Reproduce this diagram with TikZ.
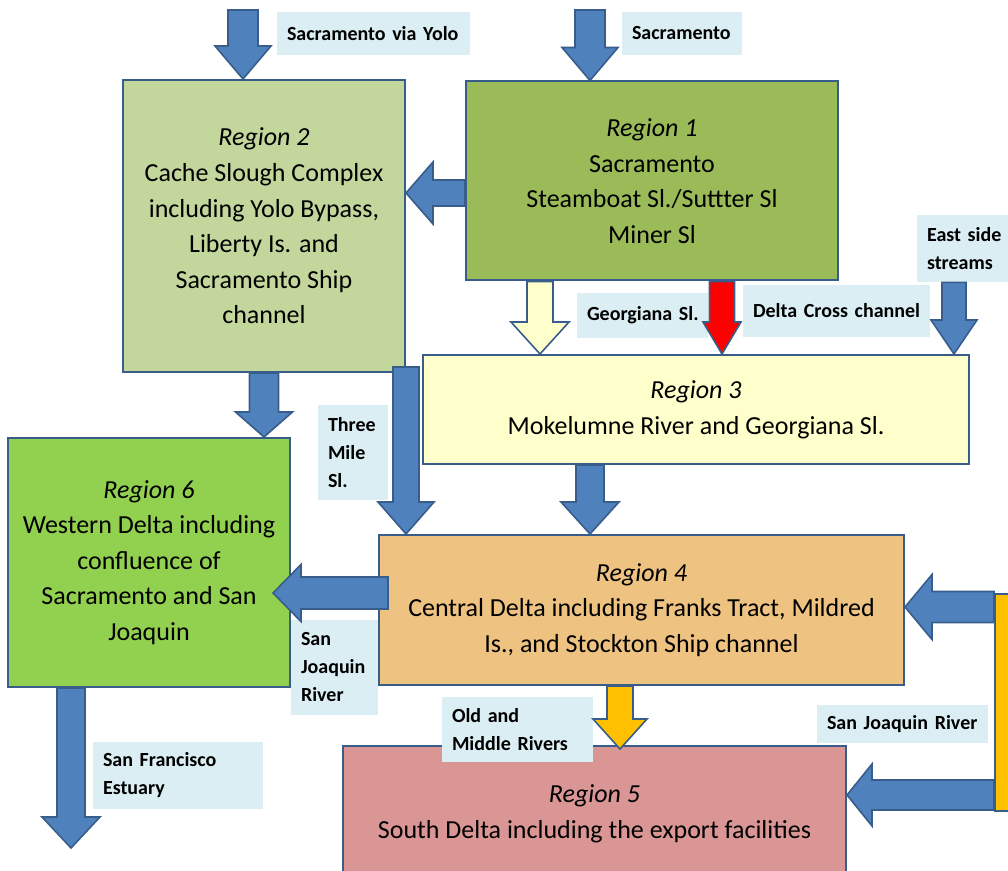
\documentclass[tikz,border=0pt]{standalone}
\usepackage{fontspec}
\setmainfont{Carlito}
\usetikzlibrary{calc}
\definecolor{bord}{HTML}{385D8A}
\definecolor{ablue}{HTML}{4F81BD}
\definecolor{cone}{HTML}{9BBB59}
\definecolor{ctwo}{HTML}{C3D69B}
\definecolor{cthree}{HTML}{FFFFCC}
\definecolor{cfour}{HTML}{EEC281}
\definecolor{cfive}{HTML}{D99694}
\definecolor{csix}{HTML}{92D050}
\definecolor{orng}{HTML}{FFC000}
\definecolor{lblue}{HTML}{DBEEF4}
\newcommand\blockarr[6]{%
  \coordinate (ba-c) at ($(#2)!#5!(#1)$);
  \draw[barr,#6] ($(#1)!#3!90:(#2)$) -- ($(ba-c)!#3!90:(#2)$) -- ($(ba-c)!#4!90:(#2)$) -- (#2) -- ($(ba-c)!#4!-90:(#2)$) -- ($(ba-c)!#3!-90:(#2)$) -- ($(#1)!#3!-90:(#2)$) -- cycle;}
\begin{document}
\begin{tikzpicture}[x=0.5pt,y=-0.5pt,
  region/.style={draw=bord, line width=1pt, rectangle, inner sep=0pt, align=center, font=\fontsize{13}{17.8}\selectfont},
  lbl/.style={fill=lblue, rectangle, inner xsep=5pt, inner ysep=0pt, align=left, font=\fontsize{10}{14}\selectfont\bfseries},
  barr/.style={fill=ablue, draw=bord, line width=0.8pt, line join=miter}]
\useasboundingbox (0,0) rectangle (1008,871);
\clip (0,0) rectangle (1008,871);
% regions
\node[region, fill=cone, minimum width=186pt, minimum height=99.5pt] (r1) at (652,181)
  {\textit{Region 1}\\Sacramento\\Steamboat Sl./Suttter Sl\\Miner Sl};
\node[region, fill=ctwo, minimum width=141pt, minimum height=146pt] (r2) at (264,226)
  {\textit{Region 2}\\Cache Slough Complex\\including Yolo Bypass,\\Liberty Is. and\\Sacramento Ship\\channel};
\node[region, fill=cthree, minimum width=273pt, minimum height=54.5pt] (r3) at (696,409.5)
  {\textit{Region 3}\\Mokelumne River and Georgiana Sl.};
\node[region, fill=cfour, minimum width=262.5pt, minimum height=75pt] (r4) at (641.5,610)
  {\textit{Region 4}\\Central Delta including Franks Tract, Mildred\\Is., and Stockton Ship channel};
\node[region, fill=cfive, minimum width=251.5pt, minimum height=68pt] (r5) at (594.5,814)
  {\textit{Region 5}\\South Delta including the export facilities};
\node[region, fill=csix, minimum width=141pt, minimum height=124.5pt] (r6) at (149,562.5)
  {\textit{Region 6}\\Western Delta including\\confluence of\\Sacramento and San\\Joaquin};
\node[draw=bord, fill=orng, line width=1pt, minimum width=10pt, minimum height=108.5pt, inner sep=0pt] (bar) at (1005,702.5) {};
% labels
\node[lbl, text width=86.5pt, minimum height=21.5pt] (l1) at (373.5,33.5) {\mbox{Sacramento via Yolo}};
\node[lbl, text width=50pt, minimum height=21.5pt] (l2) at (682,33.5) {\mbox{Sacramento}};
\node[lbl, text width=55.5pt, minimum height=22.5pt] (l3) at (642.5,315.5) {\mbox{Georgiana Sl.}};
\node[lbl, text width=83.5pt, minimum height=26pt] (l4) at (836.5,311) {\mbox{Delta Cross channel}};
\node[lbl, text width=35.5pt, minimum height=33.5pt] (l5) at (962.5,248.5) {\mbox{East side}\\\mbox{streams}};
\node[lbl, text width=25pt, minimum height=47.5pt] (l6) at (353,452.5) {\mbox{Three}\\\mbox{Mile}\\\mbox{Sl.}};
\node[lbl, text width=33.5pt, minimum height=47.5pt] (l7) at (334.5,667.5) {\mbox{San}\\\mbox{Joaquin}\\\mbox{River}};
\node[lbl, text width=65.5pt, minimum height=32.5pt] (l8) at (517.5,729.5) {\mbox{Old and}\\\mbox{Middle Rivers}};
\node[lbl, text width=75.5pt, minimum height=19pt] (l9) at (902.5,724) {\mbox{San Joaquin River}};
\node[lbl, text width=75pt, minimum height=33.5pt] (l10) at (178,775.5) {\mbox{San Francisco}\\\mbox{Estuary}};
% arrow end points
\coordinate (s1) at (243,10); \coordinate (e1) at (s1 |- r2.north);
\coordinate (s2) at (590,10); \coordinate (e2) at (s2 |- r1.north);
\coordinate (s3) at (r1.west |- 0,193); \coordinate (e3) at (r2.east |- 0,193);
\coordinate (s4) at (r2.south); \coordinate (e4) at (r2.south |- r6.north);
\coordinate (s5) at ($(r2.south east)+(0,-6)$); \coordinate (e5) at (r2.south east |- r4.north);
\coordinate (s6) at (r1.south -| 540,0); \coordinate (e6) at (r3.north -| 540,0);
\coordinate (s7) at (r1.south -| 722,0); \coordinate (e7) at (r3.north -| 722,0);
\coordinate (s8) at (l5.south -| 954,0); \coordinate (e8) at (r3.north -| 954,0);
\coordinate (s9) at (r3.south -| 590,0); \coordinate (e9) at (r4.north -| 590,0);
\coordinate (s10) at ($(r4.west |- 0,593)+(10,0)$); \coordinate (e10) at ($(r6.east |- 0,593)+(-18,0)$);
\coordinate (s11) at (r4.south -| 620,0); \coordinate (e11) at ($(r5.north -| 620,0)+(0,4)$);
\coordinate (s12) at (bar.west |- 0,607); \coordinate (e12) at (r4.east |- 0,607);
\coordinate (s13) at (bar.west |- 0,795); \coordinate (e13) at (r5.east |- 0,795);
\coordinate (s14) at (r6.south -| 71,0); \coordinate (sf) at (71,848);
% block arrows
\blockarr{s1}{e1}{7.5pt}{14pt}{16.5pt}{}
\blockarr{s2}{e2}{7.5pt}{14pt}{16.5pt}{}
\blockarr{s3}{e3}{6.5pt}{15.5pt}{13.5pt}{}
\blockarr{s4}{e4}{7.25pt}{14.25pt}{12.5pt}{}
\blockarr{s5}{e5}{6.5pt}{14pt}{16pt}{}
\blockarr{s6}{e6}{6.5pt}{14.5pt}{16pt}{fill=cthree}
\blockarr{s7}{e7}{6.25pt}{9.5pt}{16pt}{fill=red}
\blockarr{s8}{e8}{6pt}{11.5pt}{17pt}{}
\blockarr{s9}{e9}{7pt}{14.5pt}{16pt}{}
\blockarr{s10}{e10}{8pt}{14.25pt}{14pt}{}
\blockarr{s11}{e11}{6.5pt}{13.5pt}{15pt}{fill=orng}
\blockarr{s12}{e12}{7.75pt}{16.25pt}{13.5pt}{}
\blockarr{s13}{e13}{7.5pt}{15.5pt}{12.5pt}{}
\blockarr{s14}{sf}{7pt}{14.5pt}{15.5pt}{}
\end{tikzpicture}
\end{document}
